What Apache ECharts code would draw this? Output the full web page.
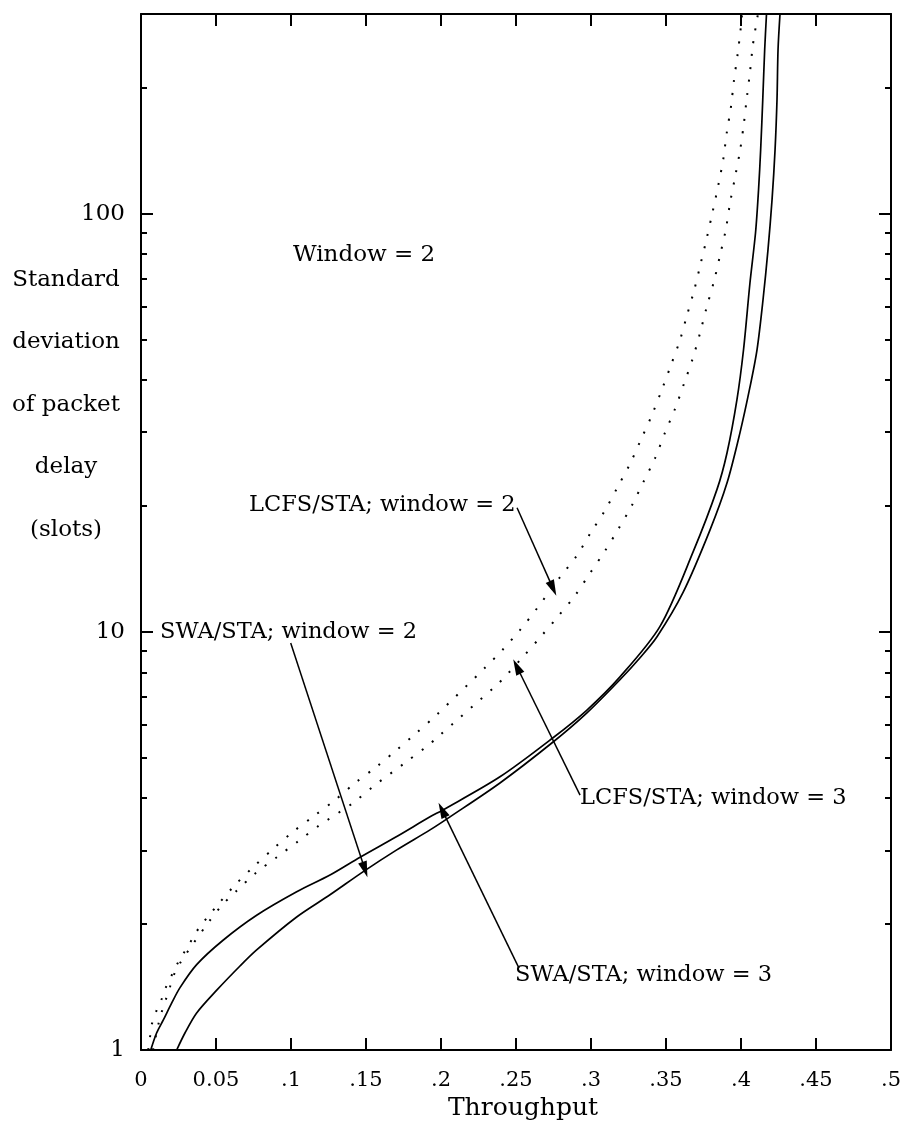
<!DOCTYPE html>
<html>
<head>
<meta charset="utf-8">
<script src="https://cdn.jsdelivr.net/npm/echarts@6/dist/echarts.min.js"></script>
<style>
  html, body { margin: 0; padding: 0; background: #ffffff; }
  #chart { width: 904px; height: 1123px; }
</style>
</head>
<body>
<div id="chart"></div>
<script>
// Tick labels along the throughput axis
const xTickLabels = ['0', '0.05', '.1', '.15', '.2', '.25', '.3', '.35', '.4', '.45', '.5'];
// Log-axis tick values (delay, slots)
const yMajorTicks = [1, 10, 100];
const yMinorTicks = [2, 3, 4, 5, 6, 7, 8, 9, 20, 30, 40, 50, 60, 70, 80, 90, 200];

// [throughput, standard deviation of packet delay]
const swaWindow3 = [
  [0.0065, 1.00], [0.0104, 1.098], [0.0149, 1.18], [0.0205, 1.296], [0.026, 1.41],
  [0.0371, 1.60], [0.0547, 1.83], [0.0771, 2.10], [0.1038, 2.39], [0.126, 2.62],
  [0.146, 2.89], [0.1705, 3.24], [0.1927, 3.61], [0.2013, 3.75], [0.2393, 4.50],
  [0.2747, 5.58], [0.2973, 6.50], [0.3193, 7.80], [0.346, 10.3], [0.368, 15.5],
  [0.384, 21.9], [0.3907, 26.8], [0.3973, 35.9], [0.4017, 47.3], [0.406, 68.4],
  [0.4097, 90.1], [0.4117, 114], [0.4131, 142], [0.4145, 187], [0.4158, 247],
  [0.417, 300]
];
const swaWindow2 = [
  [0.0238, 1.00], [0.0293, 1.098], [0.0371, 1.226], [0.0505, 1.39], [0.066, 1.588],
  [0.0771, 1.735], [0.1038, 2.08], [0.126, 2.35], [0.1482, 2.67], [0.1705, 3.01],
  [0.1927, 3.36], [0.206, 3.61], [0.2393, 4.35], [0.2747, 5.45], [0.2973, 6.40],
  [0.3193, 7.68], [0.3327, 8.67], [0.344, 9.73], [0.3613, 12.4], [0.3793, 17.5],
  [0.3907, 22.7], [0.3993, 29.9], [0.406, 38.5], [0.4107, 47.3], [0.4147, 62.3],
  [0.418, 82.0], [0.4207, 108], [0.4227, 142], [0.424, 187], [0.4247, 247],
  [0.426, 300]
];
const lcfsWindow2 = [
  [0.0048, 1.00], [0.006, 1.074], [0.0071, 1.148], [0.010, 1.233], [0.0138, 1.325],
  [0.0167, 1.415], [0.0209, 1.52], [0.0249, 1.624], [0.0289, 1.716], [0.0342, 1.843],
  [0.0391, 1.969], [0.0445, 2.08], [0.0505, 2.21], [0.0622, 2.47], [0.0749, 2.74],
  [0.0878, 3.02], [0.1011, 3.32], [0.1155, 3.63], [0.1293, 3.96], [0.1427, 4.35],
  [0.1571, 4.76], [0.1705, 5.22], [0.1838, 5.74], [0.1971, 6.33], [0.2293, 8.20],
  [0.2411, 9.06], [0.2527, 10.1], [0.2642, 11.4], [0.2793, 13.5], [0.2905, 15.2],
  [0.30, 17.3], [0.3093, 19.5], [0.3178, 22.2], [0.326, 25.2], [0.3333, 28.8],
  [0.3405, 32.9], [0.3471, 37.8], [0.3533, 43.4], [0.3593, 49.8], [0.364, 57.1],
  [0.3689, 65.8], [0.3731, 75.9], [0.3771, 87.1], [0.3811, 101], [0.3849, 117],
  [0.3882, 135], [0.3905, 156], [0.3933, 180], [0.3953, 208], [0.3978, 241],
  [0.3998, 277], [0.4007, 300]
];
const lcfsWindow3 = [
  [0.008, 1.00], [0.0115, 1.148], [0.0138, 1.233], [0.0167, 1.325], [0.0193, 1.415],
  [0.0222, 1.52], [0.0265, 1.624], [0.035, 1.80], [0.045, 2.02], [0.054, 2.22],
  [0.0631, 2.39], [0.0765, 2.65], [0.0905, 2.89], [0.1045, 3.15], [0.1187, 3.44],
  [0.1415, 3.90], [0.1549, 4.27], [0.176, 4.86], [0.1905, 5.32], [0.1971, 5.57],
  [0.2371, 7.46], [0.2433, 7.85], [0.2549, 8.73], [0.2667, 9.75], [0.2782, 10.9],
  [0.2893, 12.2], [0.2993, 13.8], [0.3093, 15.6], [0.3182, 17.6], [0.3271, 20.0],
  [0.3349, 22.8], [0.3427, 26.0], [0.3493, 29.9], [0.356, 34.1], [0.362, 39.2],
  [0.3678, 45.0], [0.3727, 51.8], [0.3771, 59.7], [0.382, 68.9], [0.386, 79.4],
  [0.3898, 91.3], [0.3927, 106], [0.396, 122], [0.3993, 141], [0.4018, 163],
  [0.4038, 188], [0.406, 218], [0.4078, 251], [0.4093, 272], [0.4113, 300]
];

// Arrow annotations: [label anchor, arrow tip] in data space
const arrowLcfs2 = [[0.2507, 19.8], [0.2747, 12.7]];
const arrowSwa2 = [[0.0998, 9.40], [0.1493, 2.70]];
const arrowLcfs3 = [[0.2927, 4.07], [0.2505, 8.26]];
const arrowSwa3 = [[0.252, 1.57], [0.2007, 3.75]];

const FONT = '"DejaVu Serif", "Liberation Serif", serif';
const INK = '#000000';

function arrow(pts) {
  return {
    silent: true,
    animation: false,
    symbol: ['none', 'triangle'],
    symbolSize: [9, 16],
    label: { show: false },
    lineStyle: { color: INK, width: 1.5, type: 'solid' },
    emphasis: { disabled: true },
    data: [[{ coord: pts[0] }, { coord: pts[1] }]]
  };
}

function curve(name, data, dotted, pts) {
  return {
    name: name,
    type: 'line',
    data: data,
    showSymbol: false,
    smooth: 0.3,
    clip: true,
    animation: false,
    silent: true,
    lineStyle: dotted
      ? { color: INK, width: 2, type: [2, 11], cap: 'butt' }
      : { color: INK, width: 1.7, type: 'solid' },
    markLine: arrow(pts)
  };
}

function logAxis(position, ticks, len, withLine, withLabels) {
  return {
    type: 'log',
    logBase: 10,
    min: 1,
    max: 300,
    position: position,
    axisLine: { show: withLine, lineStyle: { color: INK, width: 2 } },
    axisTick: {
      show: true, inside: true, length: len, customValues: ticks,
      lineStyle: { color: INK, width: 2 }
    },
    axisLabel: withLabels
      ? { show: true, customValues: ticks, margin: 16, color: INK,
          fontFamily: FONT, fontSize: 23 }
      : { show: false },
    splitLine: { show: false },
    minorTick: { show: false },
    minorSplitLine: { show: false }
  };
}

const chart = echarts.init(document.getElementById('chart'), null, { renderer: 'canvas' });

const textStyle = (size) => ({ font: size + 'px ' + FONT, fill: INK });

function label(text, x, y, align, size) {
  return {
    type: 'text', x: x, y: y, silent: true,
    style: Object.assign({
      text: text, textAlign: align, textVerticalAlign: 'middle',
      align: align, verticalAlign: 'middle'
    }, textStyle(size || 23))
  };
}

const option = {
  backgroundColor: '#ffffff',
  animation: false,
  grid: {
    left: 141, right: 13, top: 14, bottom: 73, show: false,
    containLabel: false, outerBoundsMode: 'none'
  },
  xAxis: [
    {
      type: 'value', min: 0, max: 0.5, interval: 0.05, position: 'bottom',
      axisLine: { show: true, onZero: false, lineStyle: { color: INK, width: 2 } },
      axisTick: { show: true, inside: true, length: 12, lineStyle: { color: INK, width: 2 } },
      axisLabel: {
        show: true, margin: 20, color: INK, fontFamily: FONT, fontSize: 21,
        formatter: (v) => xTickLabels[Math.round(v / 0.05)]
      },
      splitLine: { show: false },
      name: 'Throughput', nameLocation: 'middle', nameGap: 44,
      nameTextStyle: { color: INK, fontFamily: FONT, fontSize: 25, padding: [0, 0, 0, 14] }
    },
    {
      type: 'value', min: 0, max: 0.5, interval: 0.05, position: 'top',
      axisLine: { show: true, onZero: false, lineStyle: { color: INK, width: 2 } },
      axisTick: { show: true, inside: true, length: 12, lineStyle: { color: INK, width: 2 } },
      axisLabel: { show: false },
      splitLine: { show: false }
    }
  ],
  yAxis: [
    logAxis('left', yMajorTicks, 12, true, true),
    logAxis('left', yMinorTicks, 6, false, false),
    logAxis('right', yMajorTicks, 12, true, false),
    logAxis('right', yMinorTicks, 6, false, false)
  ],
  series: [
    curve('LCFS/STA; window = 2', lcfsWindow2, true, arrowLcfs2),
    curve('LCFS/STA; window = 3', lcfsWindow3, true, arrowLcfs3),
    curve('SWA/STA; window = 2', swaWindow2, false, arrowSwa2),
    curve('SWA/STA; window = 3', swaWindow3, false, arrowSwa3)
  ],
  graphic: [
    label('Standard', 66, 280, 'center'),
    label('deviation', 66, 342, 'center'),
    label('of packet', 66, 405, 'center'),
    label('delay', 66, 467, 'center'),
    label('(slots)', 66, 530, 'center'),
    label('Window = 2', 293, 255, 'left'),
    label('LCFS/STA; window = 2', 249, 505, 'left', 22.5),
    label('SWA/STA; window = 2', 160, 632, 'left', 22.5),
    label('LCFS/STA; window = 3', 580, 798, 'left', 22.5),
    label('SWA/STA; window = 3', 515, 975, 'left', 22.5)
  ]
};

chart.setOption(option);
</script>
</body>
</html>
